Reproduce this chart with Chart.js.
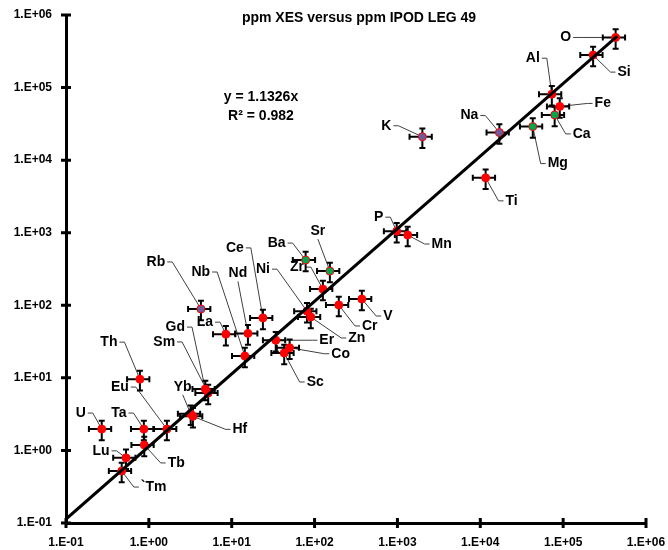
<!DOCTYPE html>
<html>
<head>
<meta charset="utf-8">
<script src="https://cdn.jsdelivr.net/npm/chart.js@4.4.0/dist/chart.umd.min.js"></script>
<style>
  html, body { margin: 0; padding: 0; background: #fff; }
</style>
</head>
<body>
<canvas id="chart" width="668" height="550"></canvas>
<script>
// ===== DATA =====
const elements = ['O', 'Si', 'Al', 'Fe', 'Ca', 'Mg', 'Na', 'K', 'Ti', 'P', 'Mn',
  'Ba', 'Sr', 'Zr', 'Rb', 'Cr', 'V', 'Ce', 'Ni', 'Zn', 'La', 'Nd', 'Nb', 'Er', 'Co', 'Sc',
  'Th', 'Gd', 'Sm', 'Yb', 'Hf', 'U', 'Ta', 'Eu', 'Tb', 'Lu', '`Tm'];
const xValues = [4.3e5, 2.3e5, 7.3e4, 9.1e4, 7.9e4, 4.3e4, 1.7e4, 2.0e3, 1.16e4, 980, 1330,
  78, 153, 126, 4.25, 196, 372, 23.8, 81, 90, 8.5, 15.7, 14.4, 34, 50, 43,
  0.78, 4.8, 5.2, 3.2, 3.4, 0.27, 0.87, 1.65, 0.88, 0.53, 0.47];
const yValues = [4.9e5, 2.8e5, 8.1e4, 5.5e4, 4.2e4, 2.9e4, 2.4e4, 2.1e4, 5.7e3, 1050, 930,
  420, 296, 167, 89, 101, 122, 67, 83, 69, 40, 41, 20, 33, 26, 22,
  9.6, 7.0, 6.2, 3.2, 2.95, 1.97, 1.97, 1.97, 1.19, 0.79, 0.52];
const greenElements = ['Ba', 'Sr', 'Ca', 'Mg'];
const purpleElements = ['Rb', 'K', 'Na'];
const errorFraction = 0.3;           // +/- 30 % error bars
const trendSlope = 1.1326;
const trendRange = [0.1, 4.5e5];
const tickValues = [0.1, 1, 10, 100, 1e3, 1e4, 1e5, 1e6];

// label offsets from the point in px: [dx, dy, side where the leader starts]
const labelLayout = {
  'O': [-50, 0, 'r'], 'Si': [31, 17, 'l'], 'Al': [-19, -36, 'r'], 'Fe': [43, -3, 'l'],
  'Ca': [27, 19, 'l'], 'Mg': [25, 37, 'l'], 'Na': [-30, -17, 'r'], 'K': [-36, -11, 'r'],
  'Ti': [26, 23, 'l'], 'P': [-18, -14, 'r'], 'Mn': [34, 9, 'l'], 'Ba': [-29, -17, 'r'],
  'Sr': [-12, -40, 'b'], 'Zr': [-26, -22, 'r'], 'Rb': [-45, -47, 'r'], 'Cr': [31, 21, 'l'],
  'V': [26, 17, 'l'], 'Ce': [-28, -70, 'r'], 'Ni': [-44, -42, 'r'], 'Zn': [46, 21, 'l'],
  'La': [-21, -12, 'r'], 'Nd': [-10, -60, 'b'], 'Nb': [-44, -84, 'r'], 'Er': [51, 0, 'l'],
  'Co': [51, 6, 'l'], 'Sc': [31, 29, 'l'], 'Th': [-31, -37, 'r'], 'Gd': [-30, -62, 'r'],
  'Sm': [-44, -51, 'r'], 'Yb': [-8, -27, 'b'], 'Hf': [47, 13, 'l'], 'U': [-21, -16, 'r'],
  'Ta': [-25, -16, 'r'], 'Eu': [-47, -42, 'r'], 'Tb': [32, 18, 'l'], 'Lu': [-25, -7, 'r'],
  '`Tm': [32, 16, 'l']
};

const FONT = "'Liberation Sans', Arial, sans-serif";

function decadeLabel(v) {
  const e = Math.round(Math.log10(v));
  return '1.E' + (e < 0 ? '-' : '+') + String(Math.abs(e)).padStart(2, '0');
}

function fillColor(name) {
  if (greenElements.includes(name)) return '#00a650';
  if (purpleElements.includes(name)) return '#6f5b99';
  return '#ff0000';
}

// ===== PLUGIN: labels, error bars, ticks, texts =====
const overlayPlugin = {
  id: 'overlay',
  beforeDatasetsDraw(chart) {
    const { ctx, scales: { x, y } } = chart;
    ctx.save();
    ctx.font = 'bold 14px ' + FONT;
    ctx.textAlign = 'center';
    ctx.textBaseline = 'middle';
    elements.forEach((name, i) => {
      const px = x.getPixelForValue(xValues[i]);
      const py = y.getPixelForValue(yValues[i]);
      const [dx, dy, side] = labelLayout[name];
      const lx = px + dx, ly = py + dy;
      const w = ctx.measureText(name).width;
      ctx.strokeStyle = '#404040';
      ctx.lineWidth = 1;
      ctx.beginPath();
      if (side === 'r') { ctx.moveTo(lx + w / 2 + 2, ly); ctx.lineTo(lx + w / 2 + 7, ly); }
      else if (side === 'l') { ctx.moveTo(lx - w / 2 - 2, ly); ctx.lineTo(lx - w / 2 - 7, ly); }
      else { ctx.moveTo(lx, ly + 8); }
      ctx.lineTo(px, py);
      ctx.stroke();
      ctx.fillStyle = '#000';
      ctx.fillText(name, lx, ly);
    });

    // error bars
    ctx.strokeStyle = '#000';
    ctx.lineWidth = 2;
    elements.forEach((name, i) => {
      const px = x.getPixelForValue(xValues[i]);
      const py = y.getPixelForValue(yValues[i]);
      const x0 = x.getPixelForValue(xValues[i] * (1 - errorFraction));
      const x1 = x.getPixelForValue(xValues[i] * (1 + errorFraction));
      const y0 = y.getPixelForValue(yValues[i] * (1 - errorFraction));
      const y1 = y.getPixelForValue(yValues[i] * (1 + errorFraction));
      ctx.beginPath();
      ctx.moveTo(x0, py); ctx.lineTo(x1, py);
      ctx.moveTo(x0, py - 3); ctx.lineTo(x0, py + 3);
      ctx.moveTo(x1, py - 3); ctx.lineTo(x1, py + 3);
      ctx.moveTo(px, y0); ctx.lineTo(px, y1);
      ctx.moveTo(px - 3, y0); ctx.lineTo(px + 3, y0);
      ctx.moveTo(px - 3, y1); ctx.lineTo(px + 3, y1);
      ctx.stroke();
    });
    ctx.restore();
  },
  afterDraw(chart) {
    const { ctx, chartArea, scales: { x, y } } = chart;
    ctx.save();
    // crossing tick marks
    ctx.strokeStyle = '#000';
    ctx.lineWidth = 3;
    ctx.beginPath();
    tickValues.forEach(v => {
      const px = x.getPixelForValue(v);
      const py = y.getPixelForValue(v);
      ctx.moveTo(px, chartArea.bottom - 5); ctx.lineTo(px, chartArea.bottom + 5);
      ctx.moveTo(chartArea.left - 5, py); ctx.lineTo(chartArea.left + 5, py);
    });
    ctx.stroke();

    ctx.fillStyle = '#000';
    ctx.textAlign = 'center';
    ctx.textBaseline = 'middle';
    ctx.font = 'bold 14px ' + FONT;
    ctx.fillText('ppm XES versus ppm IPOD LEG 49', 359, 18);
    ctx.fillText('y = 1.1326x', 261, 97);
    ctx.fillText('R\u00B2 = 0.982', 261, 116);
    ctx.restore();
  }
};

// ===== CHART =====
const points = elements.map((name, i) => ({ x: xValues[i], y: yValues[i] }));

function fitScale(size) {
  return scale => {
    if (scale.isHorizontal()) scale.height = size; else scale.width = size;
    scale.paddingLeft = scale.paddingRight = scale.paddingTop = scale.paddingBottom = 0;
  };
}

const axisBase = {
  type: 'logarithmic',
  min: 0.1,
  max: 1e6,
  afterBuildTicks: axis => { axis.ticks = tickValues.map(v => ({ value: v })); },
  grid: { display: true, drawOnChartArea: false, drawTicks: false },
  border: { display: true, color: '#000', width: 3 }
};

new Chart(document.getElementById('chart'), {
  type: 'scatter',
  data: {
    datasets: [
      {
        data: trendRange.map(v => ({ x: v, y: trendSlope * v })),
        showLine: true,
        borderColor: '#000',
        borderWidth: 3,
        pointRadius: 0,
        fill: false
      },
      {
        data: points,
        pointRadius: 4,
        pointBorderWidth: 1,
        pointBackgroundColor: elements.map(fillColor),
        pointBorderColor: '#ff0000'
      }
    ]
  },
  options: {
    responsive: false,
    animation: false,
    layout: { padding: { top: 15, right: 22, left: 0, bottom: 0 } },
    plugins: { legend: { display: false }, tooltip: { enabled: false } },
    scales: {
      x: {
        ...axisBase,
        afterFit: fitScale(27),
        ticks: {
          autoSkip: false, maxRotation: 0, padding: 12, color: '#000',
          font: { family: FONT, size: 12, weight: 'bold' },
          callback: v => decadeLabel(v)
        }
      },
      y: {
        ...axisBase,
        afterFit: fitScale(66),
        ticks: {
          autoSkip: false, padding: 14, color: '#000',
          font: { family: FONT, size: 12, weight: 'bold' },
          callback: v => decadeLabel(v)
        }
      }
    }
  },
  plugins: [overlayPlugin]
});
</script>
</body>
</html>
